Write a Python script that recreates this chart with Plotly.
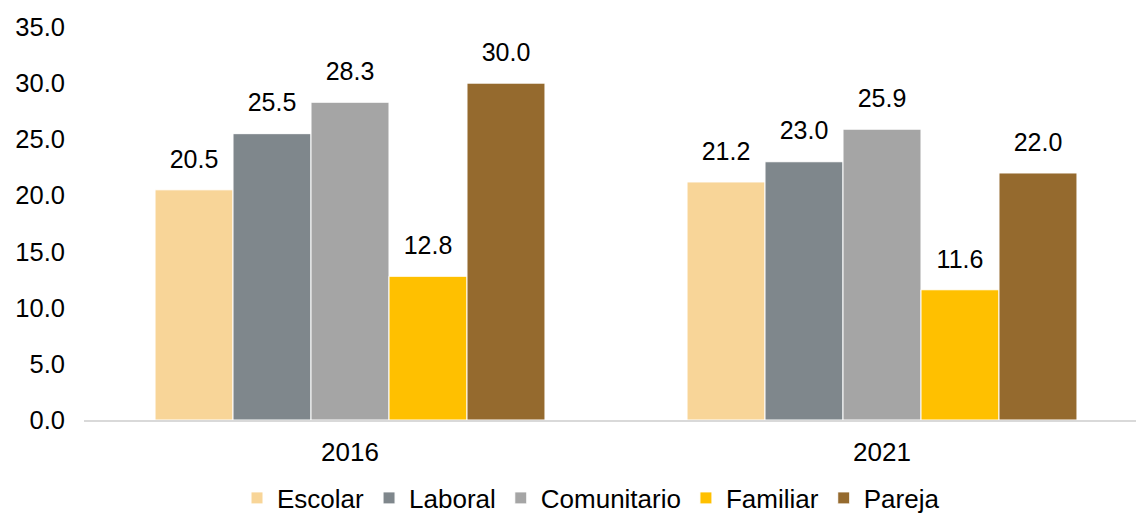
import plotly.graph_objects as go

years = ["2016", "2021"]
series_names = ["Escolar", "Laboral", "Comunitario", "Familiar", "Pareja"]
escolar = [20.5, 21.2]
laboral = [25.5, 23.0]
comunitario = [28.3, 25.9]
familiar = [12.8, 11.6]
pareja = [30.0, 22.0]
y_ticks = [0, 5, 10, 15, 20, 25, 30, 35]

values = [escolar, laboral, comunitario, familiar, pareja]
colors = ["#F8D598", "#7F878C", "#A5A5A5", "#FFC000", "#956A2E"]
FONT = "Liberation Sans, Arial, sans-serif"
FS = 25

fig = go.Figure()
for name, vals, col in zip(series_names, values, colors):
    fig.add_trace(go.Bar(
        x=years, y=vals, name=name, offsetgroup=name,
        marker=dict(color=col, line=dict(color="white", width=1)),
    ))
for name, vals in zip(series_names, values):
    fig.add_trace(go.Scatter(
        x=years, y=vals, mode="markers+text", showlegend=False, offsetgroup=name,
        marker=dict(size=24, opacity=0),
        text=[f"{v:.1f}" for v in vals], textposition="top center",
        textfont=dict(family=FONT, size=FS, color="#000000"),
        cliponaxis=False, hoverinfo="skip",
    ))

fig.update_layout(
    width=1136, height=517,
    margin=dict(l=84, r=0, t=27, b=97, autoexpand=False),
    paper_bgcolor="white", plot_bgcolor="white",
    barmode="group", bargap=0.267, bargroupgap=0,
    scattermode="group", scattergap=0.267,
    font=dict(family=FONT, size=FS, color="#000000"),
    showlegend=True,
    legend=dict(orientation="h", x=(591 - 84) / 1052, xanchor="center",
                yref="container", y=(517 - 498) / 517, yanchor="middle",
                font=dict(size=26), itemwidth=30, traceorder="normal"),
    xaxis=dict(type="category", range=[-0.5, -0.5 + 1052 / 532], showline=True, linecolor="#D9D9D9",
               linewidth=2, ticks="", showgrid=False, tickfont=dict(size=26),
               ticklabelstandoff=8, automargin=False),
    yaxis=dict(range=[0, 35], tickvals=y_ticks, ticktext=[f"{v:.1f}" for v in y_ticks],
               showgrid=False, zeroline=False, showline=False, ticks="", tickfont=dict(size=25.5),
               ticklabelstandoff=18, automargin=False),
)

fig.write_html("out.html", config={"displayModeBar": False},
               post_script="document.body.style.margin='0px';")
